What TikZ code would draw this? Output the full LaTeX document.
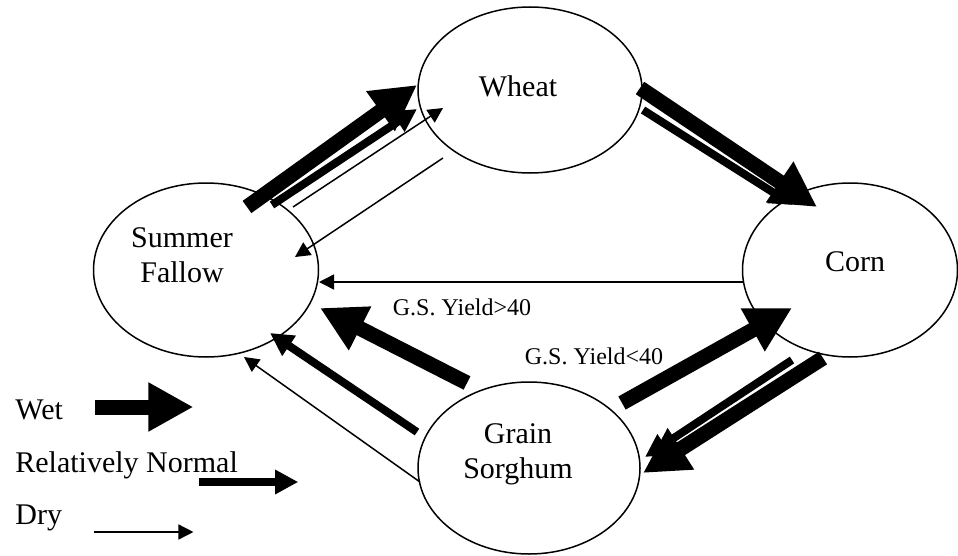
\documentclass[tikz,border=0pt]{standalone}
\usepackage{fontspec}
\setmainfont{Liberation Serif}
\usetikzlibrary{arrows.meta,shapes.geometric}

\tikzset{
  crop/.style={draw, ellipse, line width=0.75pt, inner sep=0pt},
  croptext/.style={font=\fontsize{15}{17.5}\selectfont, align=center, inner sep=0pt},
  yieldtext/.style={font=\fontsize{12}{14}\selectfont, inner sep=0pt},
  wetarrow/.style={line width=7.5pt, -{Triangle[width=23pt,length=22.5pt]}},
  normalarrow/.style={line width=4pt, -{Triangle[width=11.5pt,length=11.5pt]}},
  dryarrow/.style={line width=0.75pt, -{Triangle[width=7.5pt,length=7.5pt]}}
}

\begin{document}
\begin{tikzpicture}[x=0.5pt,y=-0.5pt]
    \useasboundingbox (0,0) rectangle (958,556);

    % Crops
    \node[crop, minimum width=112pt, minimum height=83pt] (wheat) at (530,90) {};
    \node[crop, minimum width=107.5pt, minimum height=87pt] (corn) at (850,270) {};
    \node[crop, minimum width=112.5pt, minimum height=87pt] (fallow) at (206,270) {};
    \node[crop, minimum width=111pt, minimum height=86pt] (sorghum) at (529,468) {};

    % Crop names
    \node[croptext] (wheatname) at ([shift={(-12,-4)}]wheat.center) {Wheat};
    \node[croptext] (cornname) at ([shift={(5,-8)}]corn.center) {Corn};
    \node[croptext] (fallowname) at ([shift={(-24,-15)}]fallow.center) {Summer\\Fallow};
    \node[croptext] (sorghumname) at ([shift={(-11,-14)}]sorghum.center) {Grain\\Sorghum};

    % Summer fallow <-> wheat
    \draw[wetarrow] ([shift={(41,-63)}]fallow.center) -- ([shift={(-113,-5)}]wheat.center);
    \draw[normalarrow] ([shift={(66,-65)}]fallow.center) -- ([shift={(-113,19)}]wheat.center);
    \draw[dryarrow] ([shift={(87,-63)}]fallow.center) -- ([shift={(-87,18)}]wheat.center);
    \draw[dryarrow] ([shift={(-87,68)}]wheat.center) -- ([shift={(89,-13)}]fallow.center);

    % Wheat -> corn
    \draw[wetarrow] ([shift={(110,-2)}]wheat.center) -- ([shift={(-33,-63)}]corn.center);
    \draw[normalarrow] ([shift={(113,20)}]wheat.center) -- ([shift={(-57,-65)}]corn.center);

    % Corn -> summer fallow
    \draw[dryarrow] ([shift={(-107,12)}]corn.center) -- ([shift={(113,12)}]fallow.center);

    % Grain sorghum -> summer fallow
    \draw[wetarrow] ([shift={(-62,-85)}]sorghum.center) -- ([shift={(114,38)}]fallow.center);
    \draw[normalarrow] ([shift={(-112,-36)}]sorghum.center) -- ([shift={(64,63)}]fallow.center);
    \draw[dryarrow] ([shift={(-109,14)}]sorghum.center) -- ([shift={(38,87)}]fallow.center);

    % Grain sorghum <-> corn
    \draw[wetarrow] ([shift={(93,-65)}]sorghum.center) -- ([shift={(-58,38)}]corn.center);
    \draw[wetarrow] ([shift={(-27,88)}]corn.center) -- ([shift={(114,5)}]sorghum.center);
    \draw[normalarrow] ([shift={(-58,90)}]corn.center) -- ([shift={(116,-11)}]sorghum.center);

    \node[yieldtext] (yieldhigh) at (462,307) {G.S. Yield>40};
    \node[yieldtext] (yieldlow) at (594,356) {G.S. Yield<40};

    % Legend
    \node[croptext, anchor=west] (wetkey) at (15,410) {Wet};
    \node[croptext, anchor=west] (normalkey) at (15,465) {Relatively Normal};
    \node[croptext, anchor=west] (drykey) at (15,518) {Dry};
    \draw[wetarrow] ([shift={(32,-3)}]wetkey.east) -- ++(98,0);
    \draw[normalarrow] ([shift={(-39,17)}]normalkey.east) -- ++(99,0);
    \draw[dryarrow] ([shift={(32,14)}]drykey.east) -- ++(99,0);
\end{tikzpicture}
\end{document}
